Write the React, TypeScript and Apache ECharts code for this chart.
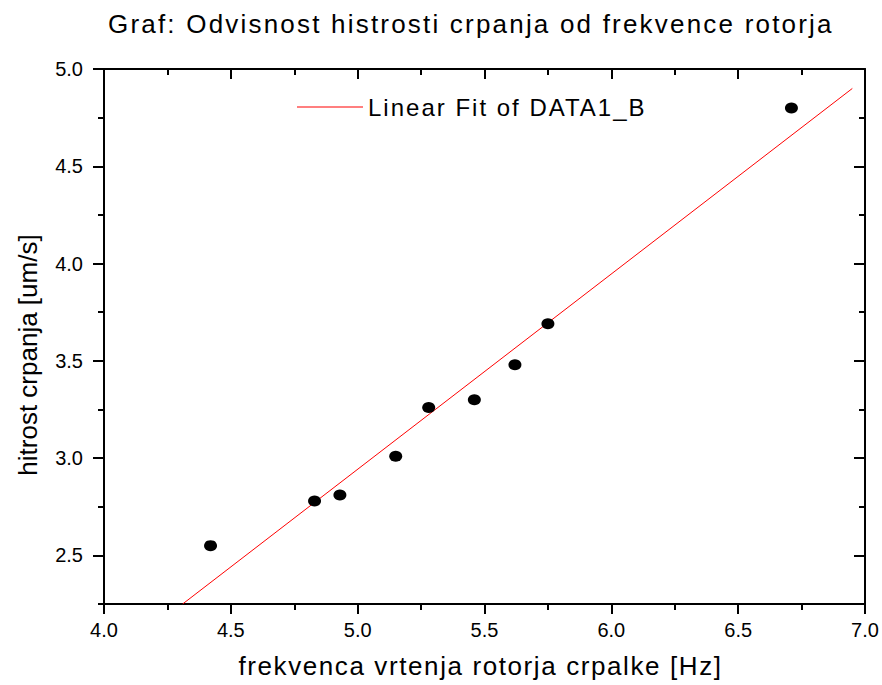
import React, { useEffect, useRef } from "react";
import * as echarts from "echarts";

const titleText = "Graf: Odvisnost histrosti crpanja od frekvence rotorja";
const xName = "frekvenca vrtenja rotorja crpalke [Hz]";
const yName = "hitrost crpanja [um/s]";
const fitName = "Linear Fit of DATA1_B";

const freq = [4.42, 4.83, 4.93, 5.15, 5.28, 5.46, 5.62, 5.75, 6.71];
const speed = [2.55, 2.78, 2.81, 3.01, 3.26, 3.3, 3.48, 3.69, 4.8];
const fitX = [4.31, 6.95];
const fitY = [2.25, 4.9];

const xMin = 4;
const xMax = 7;
const xStep = 0.5;
const yMin = 2.25;
const yMax = 5;
const yMinor = 0.25;
const yLabelMin = 2.5;
const yStep = 0.5;

const W = 882;
const H = 685;
const G_LEFT = 104;
const G_RIGHT = 17;
const G_TOP = 69;
const G_BOTTOM = 81;

const FONT = "'Liberation Sans', Arial, sans-serif";

export default function App() {
  const ref = useRef<HTMLDivElement>(null);

  useEffect(() => {
    const el = ref.current;
    if (!el) return;
    const chart = echarts.init(el, undefined, { renderer: "svg" });

    const plotH = H - G_TOP - G_BOTTOM;
    const grid2Bottom = G_BOTTOM + ((yLabelMin - yMin) / (yMax - yMin)) * plotH;

    const black = "#000";
    const lineAxis = { show: true, onZero: false, lineStyle: { color: black, width: 2 } };
    const fmt = (v: number) => v.toFixed(1);

    const xBase = {
      type: "value" as const,
      min: xMin,
      max: xMax,
      interval: xStep,
      splitLine: { show: false },
      axisLine: lineAxis,
    };

    const yBase = {
      type: "value" as const,
      min: yMin,
      max: yMax,
      interval: yMinor,
      splitLine: { show: false },
      axisLine: lineAxis,
      axisLabel: { show: false },
    };

    const yMajor = {
      type: "value" as const,
      gridIndex: 1,
      min: yLabelMin,
      max: yMax,
      interval: yStep,
      splitLine: { show: false },
      axisLine: { show: false, onZero: false },
    };

    const option: any = {
      animation: false,
      backgroundColor: "#fff",
      textStyle: { fontFamily: FONT },
      title: {
        text: titleText,
        left: 108,
        top: 11,
        padding: 0,
        textStyle: { fontFamily: FONT, fontSize: 26, fontWeight: "normal", color: black },
      },
      legend: {
        data: [{ name: fitName, icon: "rect" }],
        left: 297,
        top: 95,
        padding: 0,
        itemWidth: 66,
        itemHeight: 1,
        textStyle: { fontFamily: FONT, fontSize: 24, color: black },
      },
      grid: [
        { left: G_LEFT, right: G_RIGHT, top: G_TOP, bottom: G_BOTTOM },
        { left: G_LEFT, right: G_RIGHT, top: G_TOP, bottom: grid2Bottom },
      ],
      xAxis: [
        {
          ...xBase,
          gridIndex: 0,
          position: "bottom",
          axisTick: { show: true, length: 10, lineStyle: { color: black, width: 2 } },
          minorTick: { show: true, splitNumber: 2, length: 6, lineStyle: { color: black, width: 2 } },
          axisLabel: { fontSize: 20, color: black, margin: 16, formatter: fmt, fontFamily: FONT },
          name: xName,
          nameLocation: "middle",
          nameGap: 49,
          nameTextStyle: { fontSize: 26, color: black, fontFamily: FONT, padding: [0, 8, 0, 0] },
        },
        {
          ...xBase,
          gridIndex: 0,
          position: "top",
          axisTick: { show: true, inside: true, length: 10, lineStyle: { color: black, width: 2 } },
          minorTick: { show: true, splitNumber: 2, length: 6, lineStyle: { color: black, width: 2 } },
          axisLabel: { show: false },
        },
        { type: "value", gridIndex: 1, min: xMin, max: xMax, show: false },
      ],
      yAxis: [
        {
          ...yBase,
          gridIndex: 0,
          position: "left",
          axisTick: { show: true, length: 6, lineStyle: { color: black, width: 2 } },
          name: yName,
          nameLocation: "middle",
          nameGap: 63,
          nameTextStyle: { fontSize: 26, color: black, fontFamily: FONT, padding: [0, 37, 0, 0] },
        },
        {
          ...yBase,
          gridIndex: 0,
          position: "right",
          axisTick: { show: true, inside: true, length: 6, lineStyle: { color: black, width: 2 } },
        },
        {
          ...yMajor,
          position: "left",
          axisTick: { show: true, length: 11, lineStyle: { color: black, width: 2 } },
          axisLabel: { fontSize: 20, color: black, margin: 21, formatter: fmt, fontFamily: FONT },
        },
        {
          ...yMajor,
          position: "right",
          axisTick: { show: true, inside: true, length: 11, lineStyle: { color: black, width: 2 } },
          axisLabel: { show: false },
        },
      ],
      series: [
        {
          name: "DATA1_B",
          type: "scatter",
          xAxisIndex: 0,
          yAxisIndex: 0,
          symbol: "circle",
          symbolSize: [13, 11],
          itemStyle: { color: black, opacity: 1 },
          data: freq.map((x, i) => [x, speed[i]]),
          z: 3,
        },
        {
          name: fitName,
          type: "line",
          xAxisIndex: 0,
          yAxisIndex: 0,
          symbol: "none",
          showSymbol: false,
          lineStyle: { color: "#ff0000", width: 1 },
          itemStyle: { color: "#ff0000" },
          data: fitX.map((x, i) => [x, fitY[i]]),
          z: 2,
        },
      ],
    };

    chart.setOption(option);

    const applySpacing = () => {
      el.querySelectorAll("text").forEach((t) => {
        const s = t.textContent;
        if (s === titleText) t.setAttribute("letter-spacing", "2.2");
        else if (s === fitName) t.setAttribute("letter-spacing", "2");
        else if (s === xName) t.setAttribute("letter-spacing", "1.6");
      });
    };
    applySpacing();
    chart.on("finished", applySpacing);

    return () => {
      chart.dispose();
    };
  }, []);

  return (
    <div
      ref={ref}
      style={{ position: "absolute", left: 0, top: 0, width: W, height: H, background: "#fff" }}
    />
  );
}
